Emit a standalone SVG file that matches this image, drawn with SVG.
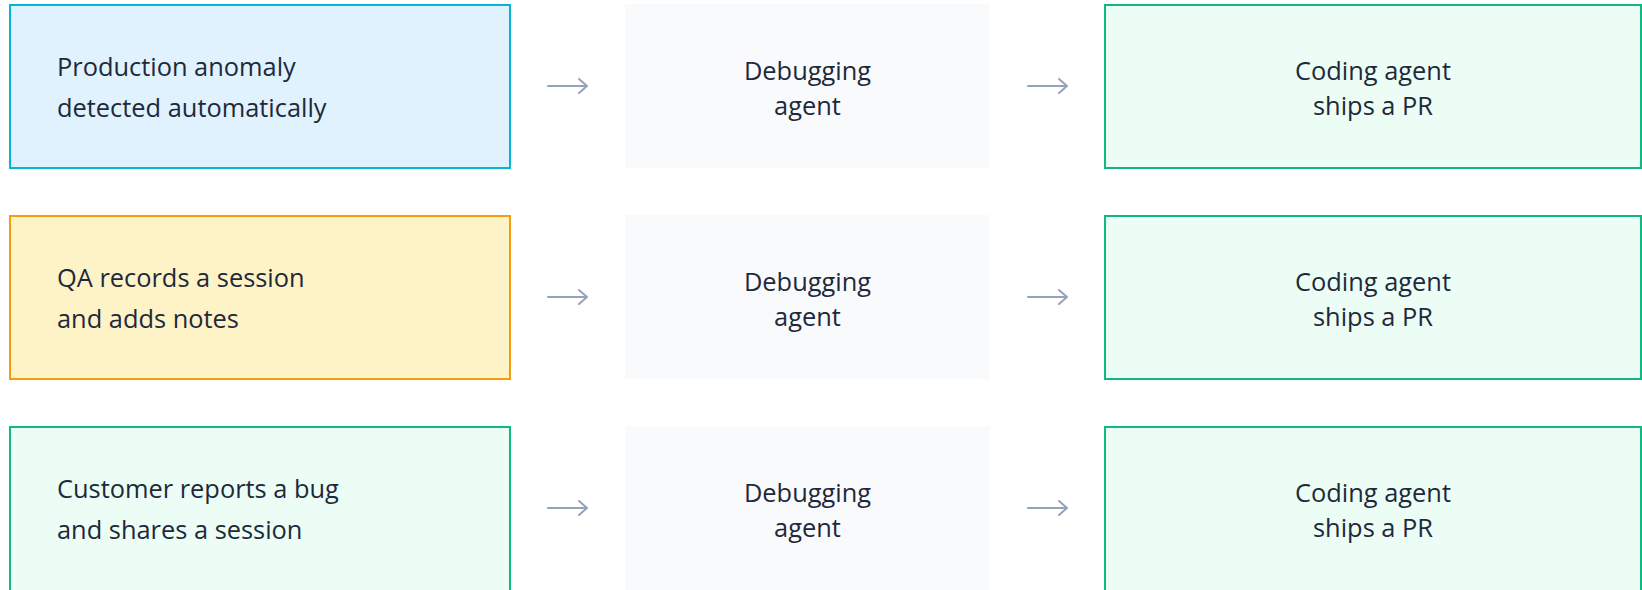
<svg xmlns="http://www.w3.org/2000/svg" width="1642" height="590" viewBox="0 0 1642 590">
  <style>
    .t { font-family: "Open Sans", "Noto Sans", "DejaVu Sans", sans-serif; font-size: 25.4px; fill: #1e293b; }
    .c { text-anchor: middle; }
    .blue { fill: #e0f2fe; stroke: #06b6d4; stroke-width: 2; }
    .amber { fill: #fef3c7; stroke: #f59e0b; stroke-width: 2; }
    .green { fill: #ecfdf5; stroke: #10b981; stroke-width: 2; }
    .mid { fill: #f8fafc; stroke: none; }
    .arr { stroke: #94a3b8; stroke-width: 2; fill: none; stroke-linecap: round; stroke-linejoin: round; }
  </style>
  <rect width="1642" height="590" fill="#ffffff"/>

  <g id="src1">
    <rect class="blue" x="10" y="5" width="500" height="163"/>
    <text class="t" x="57" y="76">Production anomaly</text>
    <text class="t" x="57" y="117">detected automatically</text>
  </g>
  <g id="dbg1">
    <rect class="mid" x="625" y="4" width="365" height="164"/>
    <text class="t c" x="807.5" y="80">Debugging</text>
    <text class="t c" x="807.5" y="115">agent</text>
  </g>
  <g id="code1">
    <rect class="green" x="1105" y="5" width="536" height="163"/>
    <text class="t c" x="1373" y="80">Coding agent</text>
    <text class="t c" x="1373" y="115">ships a PR</text>
  </g>

  <g id="src2">
    <rect class="amber" x="10" y="216" width="500" height="163"/>
    <text class="t" x="57" y="287">QA records a session</text>
    <text class="t" x="57" y="328">and adds notes</text>
  </g>
  <g id="dbg2">
    <rect class="mid" x="625" y="215" width="365" height="164"/>
    <text class="t c" x="807.5" y="291">Debugging</text>
    <text class="t c" x="807.5" y="326">agent</text>
  </g>
  <g id="code2">
    <rect class="green" x="1105" y="216" width="536" height="163"/>
    <text class="t c" x="1373" y="291">Coding agent</text>
    <text class="t c" x="1373" y="326">ships a PR</text>
  </g>

  <g id="src3">
    <rect class="green" x="10" y="427" width="500" height="170"/>
    <text class="t" x="57" y="498">Customer reports a bug</text>
    <text class="t" x="57" y="539">and shares a session</text>
  </g>
  <g id="dbg3">
    <rect class="mid" x="625" y="426" width="365" height="170"/>
    <text class="t c" x="807.5" y="502">Debugging</text>
    <text class="t c" x="807.5" y="537">agent</text>
  </g>
  <g id="code3">
    <rect class="green" x="1105" y="427" width="536" height="170"/>
    <text class="t c" x="1373" y="502">Coding agent</text>
    <text class="t c" x="1373" y="537">ships a PR</text>
  </g>

  <g id="connectors">
    <path class="arr" d="M548 86 H587 M579 79 L587 86 L579 93"/>
    <path class="arr" d="M1028 86 H1067 M1059 79 L1067 86 L1059 93"/>
    <path class="arr" d="M548 297 H587 M579 290 L587 297 L579 304"/>
    <path class="arr" d="M1028 297 H1067 M1059 290 L1067 297 L1059 304"/>
    <path class="arr" d="M548 508 H587 M579 501 L587 508 L579 515"/>
    <path class="arr" d="M1028 508 H1067 M1059 501 L1067 508 L1059 515"/>
  </g>
</svg>
